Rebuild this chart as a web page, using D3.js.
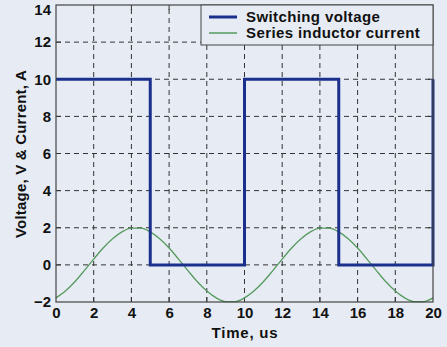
<!DOCTYPE html>
<html>
<head>
<meta charset="utf-8">
<script src="https://cdn.jsdelivr.net/npm/d3@7"></script>
<style>
  body { margin: 0; background: #e7ecf4; }
  svg { display: block; }
  text { font-family: "Liberation Sans", Arial, sans-serif; font-weight: bold; fill: #111; }
</style>
</head>
<body>
<div id="chart"></div>
<script>
// switching voltage (square wave), breakpoints
const voltageTime = [0, 5, 5, 10, 10, 15, 15, 20, 20];
const voltageValue = [10, 10, 0, 0, 10, 10, 0, 0, 10];

// series inductor current, read every 0.5 us
const currentTime = d3.range(0, 20.01, 0.5);
const currentValue = [
  -1.78, -1.41, -0.91, -0.31, 0.31, 0.91, 1.41, 1.78, 1.98, 1.98,
  1.78, 1.41, 0.91, 0.31, -0.31, -0.91, -1.41, -1.78, -1.98, -1.98,
  -1.78, -1.41, -0.91, -0.31, 0.31, 0.91, 1.41, 1.78, 1.98, 1.98,
  1.78, 1.41, 0.91, 0.31, -0.31, -0.91, -1.41, -1.78, -1.98, -1.98,
  -1.78
];

const xTicks = [0, 2, 4, 6, 8, 10, 12, 14, 16, 18, 20];
const yTicks = [-2, 0, 2, 4, 6, 8, 10, 12, 14];
const seriesNames = ['Switching voltage', 'Series inductor current'];
const seriesColors = ['#1b2f8c', '#569a5e'];

const width = 447, height = 347;
const margin = { top: 5, right: 14, bottom: 45, left: 56 };
const fontSize = '15px';

const svg = d3.select('#chart').append('svg')
  .attr('width', width)
  .attr('height', height);

const x = d3.scaleLinear().domain([0, 20]).range([margin.left, width - margin.right]);
const y = d3.scaleLinear().domain([-2, 14]).range([height - margin.bottom, margin.top]);

// grid
const grid = svg.append('g')
  .attr('stroke', '#333')
  .attr('stroke-width', 1)
  .attr('stroke-dasharray', '5,4');

grid.selectAll('line.gx')
  .data(xTicks.slice(1, -1))
  .join('line')
  .attr('x1', d => x(d)).attr('x2', d => x(d))
  .attr('y1', y(-2)).attr('y2', y(14));

grid.selectAll('line.gy')
  .data(yTicks.slice(1, -1))
  .join('line')
  .attr('y1', d => y(d)).attr('y2', d => y(d))
  .attr('x1', x(0)).attr('x2', x(20));

// inward tick marks on all sides
const ticks = svg.append('g').attr('stroke', '#333').attr('stroke-width', 1);
xTicks.slice(1, -1).forEach(t => {
  ticks.append('line').attr('x1', x(t)).attr('x2', x(t)).attr('y1', y(-2)).attr('y2', y(-2) - 5);
  ticks.append('line').attr('x1', x(t)).attr('x2', x(t)).attr('y1', y(14)).attr('y2', y(14) + 5);
});
yTicks.slice(1, -1).forEach(t => {
  ticks.append('line').attr('y1', y(t)).attr('y2', y(t)).attr('x1', x(0)).attr('x2', x(0) + 5);
  ticks.append('line').attr('y1', y(t)).attr('y2', y(t)).attr('x1', x(20)).attr('x2', x(20) - 5);
});

// axes
const xAxis = svg.append('g')
  .attr('transform', `translate(0,${y(-2)})`)
  .call(d3.axisBottom(x).tickValues(xTicks).tickSize(0).tickPadding(5));

const yAxis = svg.append('g')
  .attr('transform', `translate(${x(0)},0)`)
  .call(d3.axisLeft(y).tickValues(yTicks).tickSize(0).tickPadding(5));

[xAxis, yAxis].forEach(ax => {
  ax.select('.domain').remove();
  ax.selectAll('text')
    .style('font-family', '"Liberation Sans", Arial, sans-serif')
    .style('font-weight', 'bold')
    .style('font-size', fontSize)
    .attr('fill', '#111');
});
// keep the top label inside the page
yAxis.selectAll('.tick text').filter(d => d === 14).attr('dy', '0.62em');

// series
const currentLine = d3.line()
  .x((d, i) => x(currentTime[i]))
  .y(d => y(d))
  .curve(d3.curveMonotoneX);

svg.append('path')
  .datum(currentValue)
  .attr('fill', 'none')
  .attr('stroke', seriesColors[1])
  .attr('stroke-width', 1.3)
  .attr('d', currentLine);

const voltageLine = d3.line()
  .x((d, i) => x(voltageTime[i]))
  .y(d => y(d));

svg.append('path')
  .datum(voltageValue)
  .attr('fill', 'none')
  .attr('stroke', seriesColors[0])
  .attr('stroke-width', 3)
  .attr('d', voltageLine);

// frame
svg.append('rect')
  .attr('x', x(0)).attr('y', y(14))
  .attr('width', x(20) - x(0))
  .attr('height', y(-2) - y(14))
  .attr('fill', 'none')
  .attr('stroke', '#444')
  .attr('stroke-width', 1.2);

// legend
const legend = svg.append('g');
legend.append('rect')
  .attr('x', 201).attr('y', y(14))
  .attr('width', x(20) - 201)
  .attr('height', 40)
  .attr('fill', '#e7ecf4')
  .attr('stroke', '#444')
  .attr('stroke-width', 1);

seriesNames.forEach((name, i) => {
  const ly = 17 + i * 16;
  legend.append('line')
    .attr('x1', 209).attr('x2', 237)
    .attr('y1', ly).attr('y2', ly)
    .attr('stroke', seriesColors[i])
    .attr('stroke-width', i === 0 ? 3 : 1.5);
  legend.append('text')
    .attr('x', 246).attr('y', ly)
    .attr('dy', '0.35em')
    .style('font-size', fontSize)
    .style('letter-spacing', '0.4px')
    .text(name);
});

// axis titles
svg.append('text')
  .attr('x', 245)
  .attr('y', 338)
  .attr('text-anchor', 'middle')
  .style('font-size', fontSize)
  .style('letter-spacing', '0.8px')
  .text('Time, us');

svg.append('text')
  .attr('transform', 'translate(26,154) rotate(-90)')
  .attr('text-anchor', 'middle')
  .style('font-size', fontSize)
  .style('letter-spacing', '0.2px')
  .text('Voltage, V & Current, A');
</script>
</body>
</html>
